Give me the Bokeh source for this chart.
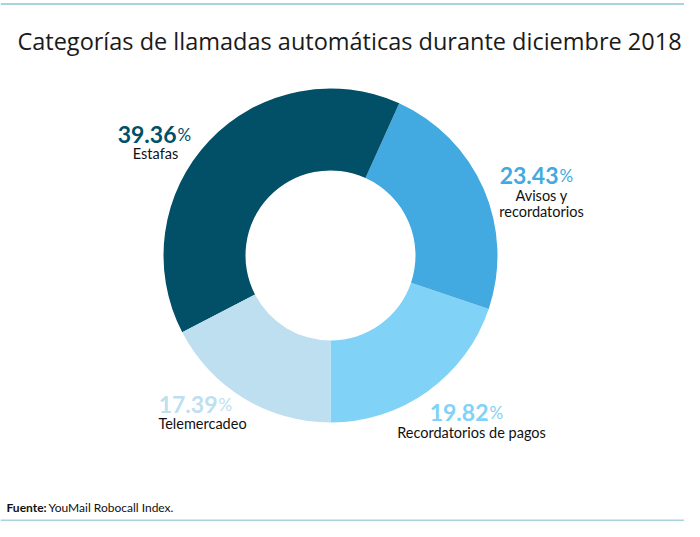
import math
from bokeh.plotting import figure
from bokeh.models import Range1d, ColumnDataSource
from bokeh.core.properties import value
from bokeh.embed import file_html
from bokeh.resources import INLINE

title = "Categorías de llamadas automáticas durante diciembre 2018"
categories = ["Recordatorios de pagos", "Avisos y\nrecordatorios", "Estafas", "Telemercadeo"]
values = [19.82, 23.43, 39.36, 17.39]
colors = ["#80d2f6", "#42aae1", "#024f68", "#bddff0"]
source_note = "YouMail Robocall Index."

W, H = 684, 521
FONT = "Lato"

def fx(x):
    return x

def fy(y):
    return H - y

def ty(y, size):
    # baseline correction for svg text rendering
    return H - (y - 0.32 * size)

p = figure(width=W, height=H, output_backend="svg", toolbar_location=None,
           x_range=Range1d(0, W), y_range=Range1d(0, H), min_border=0)
p.axis.visible = False
p.grid.visible = False
p.outline_line_color = None
p.background_fill_color = "white"

# wedges from data
total = sum(values)
starts, ends = [], []
a = -math.pi / 2
for v in values:
    starts.append(a)
    a += 2 * math.pi * v / total
    ends.append(a)
src = ColumnDataSource(dict(start=starts, end=ends, color=colors))
p.annular_wedge(x=fx(330), y=fy(255), inner_radius=85, outer_radius=167,
                start_angle="start", end_angle="end", fill_color="color",
                line_color=None, source=src, inner_radius_units="screen",
                outer_radius_units="screen")

# frame lines
p.segment(x0=[0, 0], y0=[fy(3.5), fy(520)], x1=[W, W], y1=[fy(3.5), fy(520)],
          line_color="#a9d3dd", line_width=2)

# title
p.text(x=[fx(349)], y=[ty(48, 23.5)], text=[title], text_font=value("Open Sans"),
       text_font_size="23.5px", text_color="#1a1a1a", text_align="center",
       text_baseline="alphabetic")

# labels: anchor x (split point between number and %), number baseline, label center, label baselines
label_pos = [
    (488, 419, 471, [437]),
    (558, 182, 541, [200, 216]),
    (176, 141, 155, [158]),
    (217, 411, 202, [428]),
]
for i, (sx, by, cx, lines) in enumerate(label_pos):
    p.text(x=[fx(sx)], y=[ty(by, 23)], text=[f"{values[i]:.2f}"], text_font=value(FONT),
           text_font_style="bold", text_font_size="23px", text_color=colors[i],
           text_align="right", text_baseline="alphabetic")
    p.text(x=[fx(sx + 1)], y=[ty(by, 23)], text=["%"], text_font=value(FONT),
           text_font_size="17px", text_color=colors[i],
           text_align="left", text_baseline="alphabetic")
    for ln, ly in zip(categories[i].split("\n"), lines):
        p.text(x=[fx(cx)], y=[ty(ly, 14.5)], text=[ln], text_font=value(FONT),
               text_font_size="14.5px", text_color="#111111",
               text_align="center", text_baseline="alphabetic")

# source
p.text(x=[fx(6)], y=[ty(511, 12)], text=["Fuente:"], text_font=value(FONT),
       text_font_style="bold", text_font_size="12px", text_color="#111111",
       text_align="left", text_baseline="alphabetic")
p.text(x=[fx(48)], y=[ty(511, 12)], text=[source_note], text_font=value(FONT),
       text_font_size="12px", text_color="#111111",
       text_align="left", text_baseline="alphabetic")

open("out.html", "w").write(file_html(p, INLINE))
